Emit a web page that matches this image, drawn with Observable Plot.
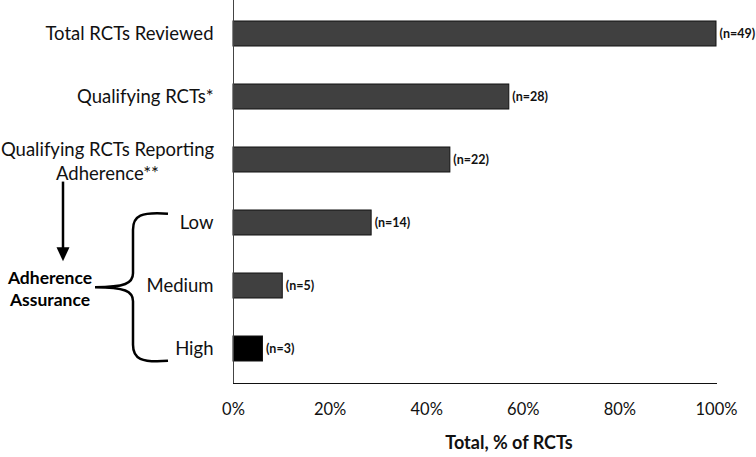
<!DOCTYPE html>
<html>
<head>
<meta charset="utf-8">
<script src="https://cdn.jsdelivr.net/npm/d3@7"></script>
<script src="https://cdn.jsdelivr.net/npm/@observablehq/plot@0.6"></script>
<style>
  html, body { margin: 0; padding: 0; background: #fff; }
  #chart svg { display: block; }
</style>
</head>
<body>
<div id="chart"></div>
<script>
// ---- data ----
const categories = ["Total RCTs Reviewed", "Qualifying RCTs*", "Qualifying RCTs Reporting\nAdherence**", "Low", "Medium", "High"];
const percents = [100, 57.1, 44.9, 28.6, 10.2, 6.1];
const counts = [49, 28, 22, 14, 5, 3];
const barColors = ["#404040", "#404040", "#404040", "#404040", "#404040", "#000000"];
const xTicks = [0, 20, 40, 60, 80, 100];
const xTitle = "Total, % of RCTs";
const groupLabel = ["Adherence", "Assurance"];

const data = categories.map((c, i) => ({cat: c, pct: percents[i], n: counts[i], color: barColors[i]}));

const W = 756, H = 457, mL = 233, mR = 40, mT = 0, mB = 74;
const font = "Lato, 'Open Sans', sans-serif";

const plot = Plot.plot({
  width: W, height: H,
  marginLeft: mL, marginRight: mR, marginTop: mT, marginBottom: mB,
  style: {fontFamily: font, fontSize: "16.5px", color: "#111", background: "#fff", overflow: "visible"},
  x: {domain: [0, 100], ticks: xTicks, tickFormat: d => d + "%", tickSize: 0, tickPadding: 20, line: true, label: null},
  y: {domain: categories, paddingInner: 0.6, paddingOuter: 0.3, axis: null},
  marks: [
    Plot.barX(data, {x: "pct", y: "cat", fill: "color", stroke: "#111", strokeWidth: 1}),
    Plot.ruleX([0], {stroke: "#444", strokeWidth: 1}),
    Plot.text(data, {x: "pct", y: "cat", text: d => `(n=${d.n})`, dx: 3, textAnchor: "start", fontWeight: "bold", fontSize: 12.5, fill: "#111"}),
    Plot.text(data.filter(d => !d.cat.includes("\n")), {y: "cat", text: "cat", frameAnchor: "left", dx: -20, textAnchor: "end", fontSize: 18.5, fill: "#111"}),
    Plot.text(data.filter(d => d.cat.includes("\n")), {y: "cat", text: "cat", frameAnchor: "left", dx: -126, textAnchor: "middle", fontSize: 18.5, lineHeight: 1.3, fill: "#111"}),
    Plot.text([xTitle], {frameAnchor: "bottom", dx: 34, dy: 65, fontWeight: "bold", fontSize: 18, fill: "#111"})
  ]
});
document.getElementById("chart").appendChild(plot);

// ---- annotations (brace + arrow), positioned from the y band scale ----
const yd = plot.scale("y");
const yb = d3.scaleBand(categories, yd.range || [mT, H - mB]).paddingInner(0.6).paddingOuter(0.3);
const svg = d3.select(plot);
const g = svg.append("g").attr("fill", "none").attr("stroke", "#000").attr("stroke-width", 2.5);

const braceTop = yb("Low") + 3;
const braceBot = yb("High") + yb.bandwidth() - 3;
const tipY = yb("Medium") + yb.bandwidth() / 2;
const xEnd = 168, xV = 133, xTip = 95;
g.append("path").attr("d",
  `M${xEnd},${braceTop} C${xV + 8},${braceTop - 2} ${xV},${braceTop + 2} ${xV},${braceTop + 16}
   L${xV},${tipY - 14} C${xV},${tipY - 4} ${xV - 8},${tipY} ${xTip},${tipY}
   C${xV - 8},${tipY} ${xV},${tipY + 4} ${xV},${tipY + 14}
   L${xV},${braceBot - 16} C${xV},${braceBot - 2} ${xV + 8},${braceBot + 2} ${xEnd},${braceBot}`);

// arrow
const arrowX = 63;
const arrowTop = yb(categories[2]) + yb.bandwidth() / 2 + 22;
const arrowTip = tipY - 26;
g.append("line").attr("x1", arrowX).attr("x2", arrowX).attr("y1", arrowTop).attr("y2", arrowTip - 10);
svg.append("path").attr("fill", "#000")
  .attr("d", `M${arrowX - 6.5},${arrowTip - 14} L${arrowX + 6.5},${arrowTip - 14} L${arrowX},${arrowTip} Z`);

// group label
const t = svg.append("text").attr("text-anchor", "middle").attr("font-weight", "bold")
  .attr("font-size", 17.5).attr("font-family", font).attr("fill", "#000");
groupLabel.forEach((s, i) => {
  t.append("tspan").attr("x", 50).attr("y", tipY - 3 + i * 22).text(s);
});
</script>
</body>
</html>
